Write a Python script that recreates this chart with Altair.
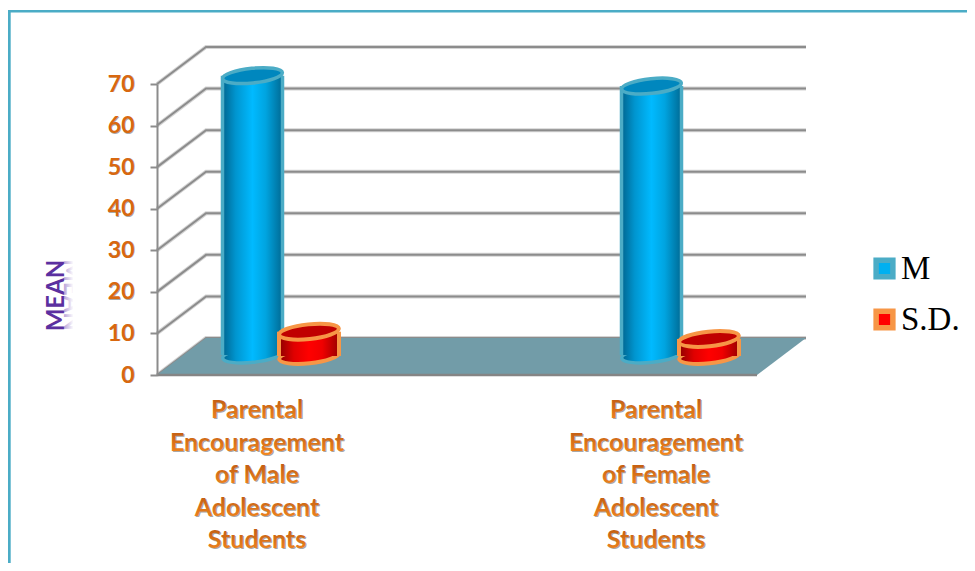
import math
import altair as alt
import pandas as pd

# ---- values ----
CATEGORIES = ["Parental\nEncouragement\nof Male\nAdolescent\nStudents",
              "Parental\nEncouragement\nof Female\nAdolescent\nStudents"]
SERIES = ["M", "S.D."]
M_VALUES = [67.2, 64.7]
SD_VALUES = [5.85, 4.1]
TICKS = [0, 10, 20, 30, 40, 50, 60, 70]
AXIS_TITLE = "MEAN"

# ---- layout ----
PX = 291 / 70            # pixels per value unit
W, H = 600, 291
DX, DY = 49, 37 / PX     # depth of the 3D box
BASE_M = 20 / PX         # floor level on which the cylinders stand
BASE_SD = 19 / PX
M_X = [95.5, 494.5]
SD_X = [152, 552]
LABEL_X = [100, 499]
GROUP_Y = lambda py: (375 - py) / PX

xs = alt.Scale(domain=[0, W], range=[0, W], nice=False, zero=False)
ys = alt.Scale(domain=[0, 70], nice=False, zero=False)
X = lambda f="x": alt.X(f"{f}:Q", scale=xs, axis=None)
Y = lambda f="y": alt.Y(f"{f}:Q", scale=ys, axis=None)


def ellipse(b=0.245, tilt=-6):
    """Tilted ellipse as a unit symbol path."""
    t = math.radians(tilt)
    k = 0.5523
    pts = [(-1, 0), (-1, -k * b), (-k, -b), (0, -b), (k, -b), (1, -k * b), (1, 0),
           (1, k * b), (k, b), (0, b), (-k, b), (-1, k * b), (-1, 0)]
    r = [(x * math.cos(t) - y * math.sin(t), x * math.sin(t) + y * math.cos(t)) for x, y in pts]
    f = lambda p: f"{p[0]:.4f},{p[1]:.4f}"
    d = "M" + f(r[0])
    for i in range(1, 13, 3):
        d += " C" + " ".join(f(p) for p in r[i:i + 3])
    return d + " Z"


ELL = ellipse()


def grad(stops):
    return alt.Gradient(gradient="linear", x1=0, x2=1, y1=0, y2=0,
                        stops=[alt.GradientStop(offset=o, color=c) for o, c in stops])


def cylinder(xc, values, base, stops, edge, cap, half=30, sw=3.5):
    d = pd.DataFrame({"x": xc, "v": values})
    d["b"] = base
    d["t"] = d["v"] + base
    d["l"] = d["x"] - half
    d["r"] = d["x"] + half
    size = (2 * half) ** 2
    bottom = alt.Chart(d).mark_point(shape=ELL, filled=True, size=size, fill=grad(stops),
                                     stroke=edge, strokeWidth=sw, opacity=1).encode(X(), Y("b"))
    body = alt.Chart(d).mark_rect(fill=grad(stops)).encode(X("l"), x2="r:Q", y=Y("b"), y2="t:Q")
    left = alt.Chart(d).mark_rule(color=edge, strokeWidth=sw).encode(X("l"), y=Y("b"), y2="t:Q")
    right = alt.Chart(d).mark_rule(color=edge, strokeWidth=sw).encode(X("r"), y=Y("b"), y2="t:Q")
    top = alt.Chart(d).mark_point(shape=ELL, filled=True, size=size, fill=cap,
                                  stroke=edge, strokeWidth=sw, opacity=1).encode(X(), Y("t"))
    return [bottom, body, left, right, top]


# ---- box walls and floor ----
rows = []
for v in TICKS:
    rows += [{"g": v, "x": 0, "y": v}, {"g": v, "x": DX, "y": v + DY}, {"g": v, "x": W + DX, "y": v + DY}]
grid_df = pd.DataFrame(rows)
grid_soft = alt.Chart(grid_df).mark_line(color="#d4d4d4", strokeWidth=4).encode(X(), Y(), detail="g:N")
grid = alt.Chart(grid_df).mark_line(color="#8c8c8c", strokeWidth=2).encode(X(), Y(), detail="g:N")

floor_df = pd.DataFrame({"x": [0, DX, W, W + DX], "y": [0, 0, 0, DY], "y2": [0, DY, DY, DY]})
floor = alt.Chart(floor_df).mark_area(color="#729ca8", opacity=1, interpolate="linear").encode(X(), Y(), y2="y2:Q")
front = alt.Chart(pd.DataFrame({"x": [0, W], "y": [0, 0]})).mark_line(color="#858585", strokeWidth=2.5).encode(X(), Y())

# ---- real axis, with shadows behind its labels ----
tick_df = pd.DataFrame({"y": TICKS, "t": [str(t) for t in TICKS]})
axis_layer = alt.Chart(tick_df).mark_tick(color="transparent").encode(
    y=alt.Y("y:Q", scale=ys, axis=alt.Axis(
        values=TICKS, grid=False, domainColor="#8c8c8c", domainWidth=2, tickColor="#8c8c8c", tickWidth=2,
        tickSize=7, labelPadding=16, labelFont="Lato", labelFontWeight="bold", labelFontSize=23,
        labelColor="#d9680f", title=AXIS_TITLE, titleFont="Lato", titleFontWeight="bold", titleFontSize=24,
        titleColor="#5b30a0", titleX=-94, titleY=211, titleAngle=270, titleAlign="center",
        titleBaseline="alphabetic", zindex=1, format="d")))
tick_shadow = alt.Chart(tick_df).mark_text(
    font="Lato", fontWeight="bold", fontSize=23, align="right", baseline="middle", color="#a8a8a8",
    dx=1, dy=1).encode(x=alt.value(-23), y=Y(), text="t:N")
fade = alt.Gradient(gradient="linear", x1=0, x2=0, y1=0, y2=1, stops=[
    alt.GradientStop(offset=0, color="#ffffff"), alt.GradientStop(offset=0.5, color="#ffffff"),
    alt.GradientStop(offset=0.82, color="#b8a6da"), alt.GradientStop(offset=1, color="#b8a6da")])
reflection = alt.Chart(pd.DataFrame({"t": [AXIS_TITLE]})).mark_text(
    font="Lato", fontWeight="bold", fontSize=24, angle=90, align="center", baseline="alphabetic",
    fill=fade).encode(x=alt.value(-93), y=alt.value(211), text="t:N")

# ---- category labels, one text per line ----
lab = []
for xc, cat in zip(LABEL_X, CATEGORIES):
    for i, line in enumerate(cat.split("\n")):
        lab.append({"x": xc, "y": GROUP_Y(410 + 32.5 * i), "t": line})
lab_df = pd.DataFrame(lab)
text_grad = alt.Gradient(gradient="linear", x1=0, x2=0, y1=0, y2=1, stops=[
    alt.GradientStop(offset=0, color="#b5530f"), alt.GradientStop(offset=1, color="#f58a20")])
lab_shadow = alt.Chart(lab_df).mark_text(font="Lato", fontWeight="bold", fontSize=25, color="#a8a8a8",
                                         dx=1, dy=1.2).encode(X(), Y(), text="t:N")
lab_text = alt.Chart(lab_df).mark_text(font="Lato", fontWeight="bold", fontSize=25, fill=text_grad).encode(X(), Y(), text="t:N")

# ---- legend, driven by points hidden behind the cylinders ----
leg_kw = dict(orient="none", legendX=707, legendY=168, title=None, symbolType="square", symbolSize=280,
              symbolStrokeWidth=5.5, labelFont="Liberation Serif", labelFontSize=33, labelColor="black",
              rowPadding=12, labelOffset=0, padding=0, symbolOpacity=1, symbolOffset=4)
leg_df = pd.DataFrame({"series": SERIES, "x": [M_X[0], SD_X[0]], "y": [BASE_M + 2, BASE_SD + 2]})
legend_pts = alt.Chart(leg_df).mark_square(size=16, opacity=1).encode(
    X(), Y(),
    fill=alt.Fill("series:N", scale=alt.Scale(domain=SERIES, range=["#00b0f0", "#ff0000"]), legend=alt.Legend(**leg_kw)),
    stroke=alt.Stroke("series:N", scale=alt.Scale(domain=SERIES, range=["#4bacc6", "#f79646"]), legend=alt.Legend(**leg_kw)))

# ---- frame of the picture ----
frame_l = alt.Chart(pd.DataFrame({"a": [0]})).mark_rule(color="#4bacc6", strokeWidth=4.7).encode(
    x=alt.value(-148.65), y=alt.value(-73), y2=alt.value(500))
frame_t = alt.Chart(pd.DataFrame({"a": [0]})).mark_rule(color="#4bacc6", strokeWidth=2.6).encode(
    x=alt.value(-150), x2=alt.value(820), y=alt.value(-72.8))

m_stops = [(0, "#00658f"), (0.22, "#0095cf"), (0.5, "#00baff"), (0.72, "#00a4e0"), (1, "#006a94")]
sd_stops = [(0, "#8f0000"), (0.25, "#e00000"), (0.5, "#ff0000"), (0.72, "#f00000"), (1, "#9a0000")]

layers = [frame_l, frame_t, grid_soft, grid, floor, front, axis_layer, tick_shadow, reflection,
          lab_shadow, lab_text, legend_pts]
layers += cylinder(M_X, M_VALUES, BASE_M, m_stops, "#4bacc6", "#0087be")
layers += cylinder(SD_X, SD_VALUES, BASE_SD, sd_stops, "#f79646", "#c00000", sw=4)

chart = alt.layer(*layers).resolve_scale(fill="independent", stroke="independent").resolve_axis(y="independent").properties(
    width=W, height=H,
    padding={"left": 149, "top": 76, "right": 210, "bottom": 188},
    autosize=alt.AutoSizeParams(type="none"),
    background="white",
).configure_view(stroke=None)

chart.save("out.html", embed_options={"renderer": "svg", "actions": False})
